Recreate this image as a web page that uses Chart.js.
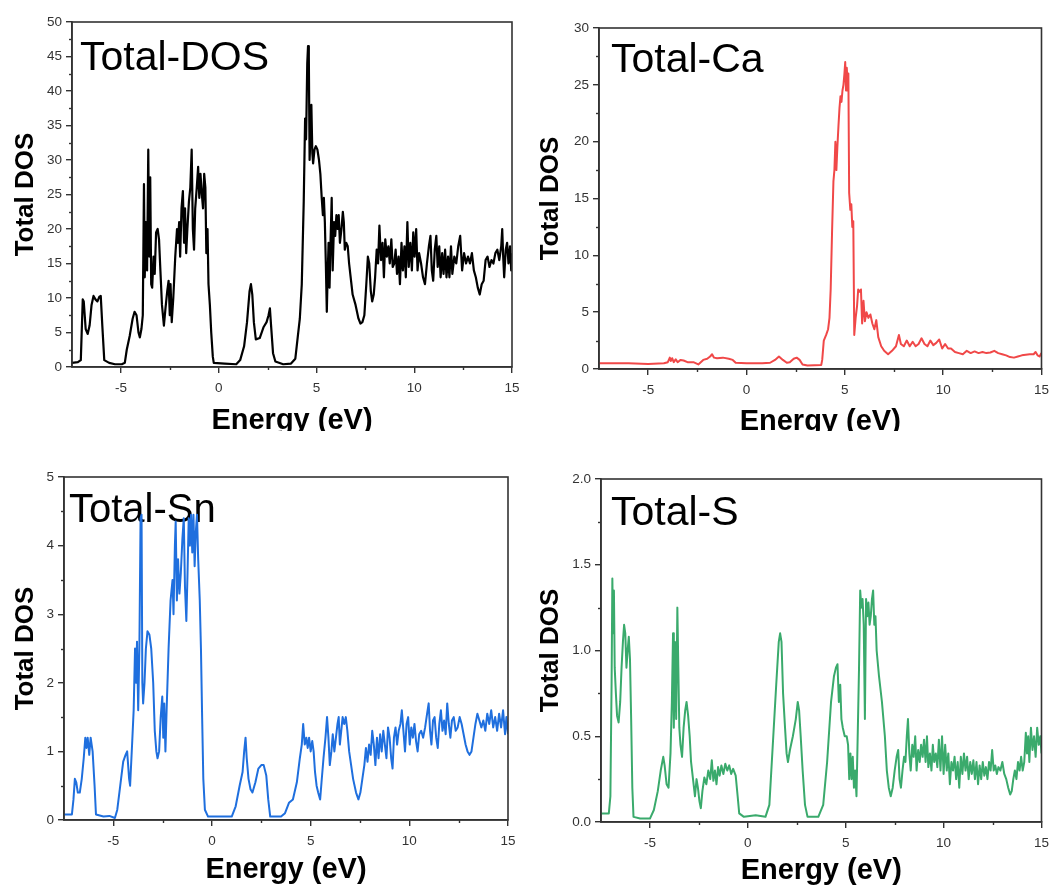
<!DOCTYPE html>
<html>
<head>
<meta charset="utf-8">
<title>Total DOS</title>
<script src="https://cdn.jsdelivr.net/npm/chart.js@4.4.1/dist/chart.umd.min.js"></script>
<style>
    html, body {
        margin: 0;
        padding: 0;
        background: #ffffff;
    }

    #page {
        position: relative;
        width: 1056px;
        height: 888px;
        overflow: hidden;
    }

    .panel {
        position: absolute;
        overflow: hidden;
    }

    .panel canvas {
        display: block;
    }
</style>
</head>
<body>
<div id="page"></div>

<script>
"use strict";

// energy axis shared by all four plots
const energyTicks = [-5, 0, 5, 10, 15];
const energyTickLabels = ["-5", "0", "5", "10", "15"];

const totalDosTicks = [0, 5, 10, 15, 20, 25, 30, 35, 40, 45, 50];
const totalDosTickLabels = ["0", "5", "10", "15", "20", "25", "30", "35", "40", "45", "50"];

const caTicks = [0, 5, 10, 15, 20, 25, 30];
const caTickLabels = ["0", "5", "10", "15", "20", "25", "30"];

const snTicks = [0, 1, 2, 3, 4, 5];
const snTickLabels = ["0", "1", "2", "3", "4", "5"];

const sTicks = [0, 0.5, 1.0, 1.5, 2.0];
const sTickLabels = ["0.0", "0.5", "1.0", "1.5", "2.0"];

// [energy (eV), DOS]
const totalDosData = [
    [-7.5,0.6],[-7.2,0.7],[-7.05,1.0],[-6.95,9.8],[-6.9,9.5],[-6.8,5.5],[-6.7,4.8],[-6.6,6.0],[-6.5,9.0],[-6.4,10.3],
    [-6.3,9.8],[-6.2,9.5],[-6.1,10.2],[-6.03,10.3],[-5.95,6.0],[-5.85,1.0],[-5.6,0.6],[-5.3,0.4],[-4.95,0.4],[-4.8,0.6],
    [-4.7,2.5],[-4.55,4.5],[-4.4,7.0],[-4.3,8.0],[-4.2,7.5],[-4.1,5.0],[-4.03,4.3],[-3.95,5.5],[-3.88,7.5],[-3.82,26.5],
    [-3.78,13.0],[-3.72,21.0],[-3.66,14.0],[-3.6,31.5],[-3.55,16.0],[-3.5,27.5],[-3.45,12.0],[-3.4,11.5],[-3.33,16.0],[-3.27,13.5],
    [-3.2,19.5],[-3.12,20.0],[-3.05,18.5],[-2.98,14.0],[-2.9,9.0],[-2.8,6.0],[-2.72,8.5],[-2.63,11.0],[-2.56,12.5],[-2.5,7.5],
    [-2.46,12.0],[-2.4,6.5],[-2.32,10.0],[-2.22,16.0],[-2.13,20.0],[-2.08,18.0],[-2.02,21.0],[-1.97,16.0],[-1.9,23.0],[-1.83,25.5],
    [-1.77,18.0],[-1.72,23.0],[-1.66,16.5],[-1.6,20.0],[-1.52,24.0],[-1.45,26.0],[-1.38,31.5],[-1.32,20.0],[-1.26,17.0],[-1.2,23.0],
    [-1.12,26.0],[-1.05,29.0],[-0.99,24.5],[-0.93,28.0],[-0.86,25.0],[-0.8,23.0],[-0.74,28.0],[-0.68,26.0],[-0.63,16.5],[-0.57,20.0],
    [-0.52,12.0],[-0.45,9.0],[-0.38,5.0],[-0.3,1.5],[-0.25,0.6],[0.3,0.5],[0.9,0.4],[1.1,1.0],[1.3,3.0],[1.45,6.5],
    [1.58,11.0],[1.65,12.0],[1.72,10.5],[1.8,6.5],[1.9,4.0],[2.1,4.2],[2.3,5.8],[2.45,6.5],[2.55,7.5],[2.62,8.5],
    [2.68,6.0],[2.78,2.0],[2.9,0.8],[3.3,0.4],[3.7,0.5],[3.92,1.2],[4.05,4.5],[4.15,7.0],[4.25,12.0],[4.35,24.0],
    [4.42,36.0],[4.47,33.0],[4.53,44.0],[4.57,46.5],[4.61,45.0],[4.65,30.0],[4.7,34.0],[4.74,38.0],[4.79,31.0],[4.83,29.5],
    [4.9,31.5],[4.97,32.0],[5.05,31.5],[5.13,30.0],[5.2,28.0],[5.27,24.5],[5.33,22.0],[5.38,24.5],[5.43,21.0],[5.48,15.0],
    [5.53,8.0],[5.57,13.0],[5.62,18.0],[5.67,11.5],[5.72,18.0],[5.78,24.5],[5.83,14.0],[5.9,21.0],[5.96,19.0],[6.02,22.0],
    [6.08,20.0],[6.14,22.0],[6.2,18.0],[6.28,20.0],[6.35,22.5],[6.4,21.0],[6.45,17.0],[6.52,18.0],[6.6,17.5],[6.67,15.0],
    [6.75,13.0],[6.85,10.5],[7.0,9.0],[7.15,7.0],[7.25,6.3],[7.35,6.5],[7.45,7.5],[7.55,12.0],[7.63,16.0],[7.7,15.0],
    [7.78,11.0],[7.85,9.5],[7.93,10.5],[8.0,13.0],[8.08,17.0],[8.15,15.0],[8.22,20.5],[8.3,15.5],[8.38,18.0],[8.45,13.0],
    [8.52,18.5],[8.6,16.0],[8.68,17.5],[8.75,15.0],[8.83,18.5],[8.9,14.5],[8.98,15.0],[9.05,17.0],[9.12,13.5],[9.2,16.0],
    [9.27,12.0],[9.35,18.0],[9.42,14.0],[9.5,17.5],[9.57,13.0],[9.65,21.0],[9.72,14.5],[9.8,18.0],[9.88,14.0],[9.95,19.5],
    [10.02,16.0],[10.1,20.0],[10.17,14.0],[10.25,16.5],[10.35,15.0],[10.45,13.0],[10.55,12.0],[10.65,15.0],[10.75,17.5],[10.83,19.0],
    [10.9,14.0],[10.97,12.5],[11.05,17.0],[11.13,19.0],[11.2,14.5],[11.28,17.5],[11.35,13.0],[11.43,16.5],[11.5,13.5],[11.58,17.0],
    [11.65,13.0],[11.73,16.0],[11.8,13.0],[11.88,17.5],[11.95,13.5],[12.05,16.0],[12.15,15.0],[12.25,17.5],[12.35,19.0],[12.45,14.0],
    [12.55,16.5],[12.65,15.0],[12.75,16.0],[12.85,15.0],[12.95,16.5],[13.05,14.0],[13.15,13.0],[13.25,11.5],[13.35,10.5],[13.45,12.0],
    [13.55,12.5],[13.65,15.5],[13.75,16.0],[13.85,14.5],[13.95,15.5],[14.05,15.0],[14.15,16.5],[14.25,17.0],[14.35,15.5],[14.45,17.5],
    [14.5,20.0],[14.55,16.0],[14.6,13.0],[14.68,17.0],[14.75,18.0],[14.82,15.0],[14.9,17.5],[14.96,14.0],[15.0,16.5]
];

const caData = [
    [-7.5,0.5],[-6.0,0.5],[-5.0,0.45],[-4.2,0.5],[-4.0,0.6],[-3.9,1.0],[-3.85,0.7],[-3.78,0.95],[-3.7,0.6],[-3.6,0.85],
    [-3.5,0.6],[-3.35,0.8],[-3.2,0.75],[-3.0,0.6],[-2.7,0.6],[-2.45,0.4],[-2.2,0.8],[-2.0,0.9],[-1.85,1.1],[-1.75,1.3],
    [-1.65,1.0],[-1.5,0.95],[-1.2,1.0],[-0.9,0.9],[-0.7,0.8],[-0.55,0.55],[0.0,0.5],[0.8,0.5],[1.2,0.55],[1.45,0.8],
    [1.65,1.1],[1.85,0.8],[2.05,0.55],[2.2,0.6],[2.4,0.9],[2.55,1.0],[2.7,0.8],[2.85,0.4],[3.1,0.3],[3.8,0.35],
    [3.85,0.8],[3.93,2.5],[4.05,3.0],[4.15,3.5],[4.22,4.5],[4.28,7.0],[4.35,12.0],[4.42,16.5],[4.47,17.5],[4.52,20.0],
    [4.57,17.5],[4.62,19.5],[4.68,21.5],[4.73,23.0],[4.78,24.0],[4.83,23.5],[4.88,24.5],[4.93,25.0],[4.98,26.0],[5.02,27.0],
    [5.06,24.5],[5.1,26.5],[5.14,25.0],[5.18,26.0],[5.22,15.5],[5.28,14.0],[5.33,14.5],[5.38,12.5],[5.43,13.0],[5.48,3.0],
    [5.55,4.5],[5.62,5.5],[5.68,7.0],[5.75,6.8],[5.82,7.0],[5.88,4.0],[5.95,6.0],[6.02,4.2],[6.1,5.0],[6.2,4.5],
    [6.3,4.8],[6.4,4.0],[6.5,3.5],[6.6,4.3],[6.7,2.8],[6.85,2.0],[7.0,1.6],[7.2,1.3],[7.4,1.6],[7.6,2.0],
    [7.75,3.0],[7.85,2.2],[8.0,2.0],[8.15,2.5],[8.3,2.0],[8.45,2.4],[8.6,2.0],[8.75,2.2],[8.9,2.7],[9.05,2.2],
    [9.2,2.0],[9.35,2.5],[9.5,2.1],[9.65,2.3],[9.8,2.6],[9.95,1.8],[10.1,2.2],[10.25,1.8],[10.4,1.8],[10.6,1.5],
    [10.8,1.4],[11.0,1.3],[11.2,1.6],[11.4,1.4],[11.6,1.55],[11.8,1.4],[12.0,1.5],[12.2,1.4],[12.4,1.45],[12.6,1.6],
    [12.8,1.4],[13.0,1.3],[13.2,1.2],[13.4,1.05],[13.6,1.0],[13.8,1.1],[14.0,1.2],[14.2,1.25],[14.4,1.3],[14.6,1.3],
    [14.7,1.5],[14.8,1.2],[14.9,1.1],[15.0,1.4]
];

const snData = [
    [-7.5,0.08],[-7.1,0.08],[-7.02,0.3],[-6.95,0.6],[-6.88,0.55],[-6.8,0.4],[-6.7,0.4],[-6.6,0.6],[-6.5,0.9],[-6.42,1.2],
    [-6.36,1.05],[-6.3,1.2],[-6.22,0.95],[-6.15,1.2],[-6.05,1.0],[-5.95,0.5],[-5.88,0.08],[-5.5,0.05],[-5.2,0.06],[-4.92,0.03],
    [-4.8,0.15],[-4.65,0.5],[-4.5,0.85],[-4.38,0.95],[-4.3,1.0],[-4.2,0.6],[-4.15,0.5],[-4.05,1.1],[-3.97,1.6],[-3.9,2.5],
    [-3.85,2.0],[-3.8,2.6],[-3.74,1.6],[-3.68,2.5],[-3.62,4.4],[-3.57,4.45],[-3.53,2.0],[-3.49,1.7],[-3.42,2.0],[-3.35,2.5],
    [-3.27,2.75],[-3.17,2.7],[-3.08,2.5],[-2.98,2.0],[-2.9,1.3],[-2.82,1.0],[-2.76,0.9],[-2.68,1.0],[-2.6,1.5],[-2.52,1.8],
    [-2.47,1.2],[-2.42,1.7],[-2.36,1.0],[-2.3,1.6],[-2.2,2.5],[-2.1,3.2],[-2.0,3.5],[-1.95,3.0],[-1.88,4.0],[-1.84,4.35],
    [-1.78,3.2],[-1.72,3.8],[-1.65,3.3],[-1.58,3.6],[-1.5,4.1],[-1.43,4.4],[-1.37,3.4],[-1.3,2.9],[-1.24,3.6],[-1.18,4.4],
    [-1.12,4.0],[-1.06,4.45],[-1.0,3.9],[-0.94,4.45],[-0.88,3.7],[-0.82,4.2],[-0.76,4.45],[-0.7,3.8],[-0.62,3.2],[-0.56,2.5],
    [-0.5,1.5],[-0.44,0.6],[-0.36,0.15],[-0.2,0.05],[0.4,0.05],[1.0,0.05],[1.2,0.2],[1.4,0.5],[1.55,0.7],[1.63,1.0],
    [1.7,1.2],[1.76,0.9],[1.85,0.6],[1.95,0.45],[2.05,0.4],[2.2,0.55],[2.35,0.75],[2.5,0.8],[2.62,0.8],[2.75,0.65],
    [2.85,0.3],[2.95,0.05],[3.5,0.05],[3.7,0.1],[3.9,0.25],[4.1,0.3],[4.3,0.55],[4.45,0.9],[4.55,1.1],[4.62,1.4],
    [4.7,1.1],[4.78,1.2],[4.85,1.05],[4.92,1.2],[5.0,1.0],[5.08,1.15],[5.15,1.0],[5.22,0.7],[5.3,0.5],[5.38,0.4],
    [5.48,0.3],[5.55,0.55],[5.65,0.9],[5.75,1.2],[5.83,1.5],[5.9,1.2],[5.97,0.8],[6.05,1.0],[6.12,1.25],[6.2,1.0],
    [6.28,1.2],[6.36,1.4],[6.42,1.5],[6.48,1.1],[6.55,1.3],[6.62,1.5],[6.7,1.4],[6.78,1.5],[6.86,1.3],[6.95,1.0],
    [7.05,0.8],[7.15,0.6],[7.3,0.4],[7.42,0.3],[7.52,0.4],[7.62,0.6],[7.72,0.8],[7.8,1.05],[7.88,0.85],[7.96,1.1],
    [8.04,0.95],[8.12,1.3],[8.2,1.1],[8.28,0.8],[8.36,1.2],[8.44,0.9],[8.52,1.25],[8.6,1.0],[8.68,1.3],[8.76,1.1],
    [8.84,0.9],[8.92,1.35],[9.0,1.2],[9.08,0.9],[9.15,0.75],[9.22,1.2],[9.3,1.35],[9.38,1.1],[9.46,1.3],[9.55,1.4],
    [9.62,1.6],[9.7,1.3],[9.78,1.0],[9.86,1.4],[9.94,1.5],[10.02,1.1],[10.1,1.35],[10.18,1.2],[10.26,1.4],[10.34,1.15],
    [10.42,1.0],[10.5,1.25],[10.6,1.3],[10.7,1.2],[10.8,1.35],[10.9,1.55],[10.98,1.7],[11.05,1.3],[11.12,1.1],[11.2,1.45],
    [11.28,1.5],[11.36,1.2],[11.44,1.05],[11.52,1.4],[11.6,1.6],[11.68,1.3],[11.76,1.45],[11.84,1.25],[11.92,1.7],[12.0,1.4],
    [12.08,1.2],[12.16,1.45],[12.25,1.5],[12.35,1.3],[12.45,1.35],[12.55,1.5],[12.65,1.4],[12.75,1.25],[12.85,1.1],[12.95,1.0],
    [13.05,0.95],[13.15,1.0],[13.25,1.2],[13.35,1.4],[13.45,1.55],[13.55,1.45],[13.65,1.35],[13.75,1.45],[13.85,1.3],[13.95,1.55],
    [14.05,1.4],[14.15,1.6],[14.25,1.35],[14.35,1.5],[14.45,1.3],[14.55,1.55],[14.65,1.35],[14.75,1.6],[14.85,1.25],[14.92,1.5],
    [15.0,1.25]
];

const sData = [
    [-7.5,0.05],[-7.1,0.05],[-7.02,0.15],[-6.96,0.8],[-6.92,1.42],[-6.88,1.1],[-6.84,1.35],[-6.8,0.9],[-6.74,0.75],[-6.68,0.62],
    [-6.6,0.58],[-6.52,0.7],[-6.45,0.9],[-6.38,1.05],[-6.32,1.15],[-6.26,1.1],[-6.2,0.9],[-6.14,1.0],[-6.08,1.08],[-6.02,0.95],
    [-5.96,0.6],[-5.9,0.2],[-5.84,0.03],[-5.5,0.02],[-5.0,0.02],[-4.8,0.07],[-4.6,0.18],[-4.45,0.3],[-4.32,0.38],[-4.25,0.33],
    [-4.15,0.22],[-4.05,0.2],[-3.95,0.4],[-3.88,0.7],[-3.82,1.1],[-3.78,0.55],[-3.72,1.05],[-3.66,0.6],[-3.6,1.25],[-3.55,0.9],
    [-3.5,0.55],[-3.44,0.45],[-3.36,0.38],[-3.28,0.55],[-3.2,0.65],[-3.13,0.7],[-3.05,0.62],[-2.97,0.5],[-2.9,0.35],[-2.8,0.25],
    [-2.7,0.15],[-2.62,0.25],[-2.55,0.2],[-2.47,0.12],[-2.4,0.08],[-2.32,0.18],[-2.22,0.26],[-2.12,0.22],[-2.02,0.3],[-1.92,0.25],
    [-1.84,0.36],[-1.76,0.24],[-1.68,0.3],[-1.6,0.22],[-1.52,0.32],[-1.44,0.27],[-1.35,0.33],[-1.25,0.28],[-1.15,0.34],[-1.05,0.3],
    [-0.95,0.33],[-0.85,0.28],[-0.75,0.31],[-0.62,0.27],[-0.52,0.15],[-0.44,0.05],[-0.2,0.03],[0.4,0.04],[0.9,0.03],[1.1,0.1],
    [1.3,0.5],[1.45,0.8],[1.58,1.05],[1.65,1.1],[1.72,1.05],[1.8,0.75],[1.9,0.55],[1.98,0.4],[2.05,0.35],[2.15,0.42],
    [2.3,0.5],[2.45,0.6],[2.55,0.7],[2.62,0.65],[2.7,0.5],[2.8,0.3],[2.92,0.1],[3.05,0.03],[3.6,0.03],[3.85,0.1],
    [4.05,0.35],[4.25,0.7],[4.4,0.85],[4.5,0.9],[4.58,0.92],[4.65,0.7],[4.72,0.8],[4.78,0.6],[4.85,0.55],[4.95,0.5],
    [5.05,0.5],[5.12,0.45],[5.18,0.25],[5.24,0.4],[5.3,0.25],[5.36,0.38],[5.42,0.2],[5.48,0.3],[5.55,0.15],[5.62,0.55],
    [5.68,0.9],[5.74,1.35],[5.8,1.25],[5.86,1.3],[5.92,1.15],[5.98,0.6],[6.04,1.3],[6.1,1.2],[6.16,1.28],[6.22,1.15],
    [6.28,1.2],[6.34,1.3],[6.4,1.35],[6.46,1.15],[6.52,1.2],[6.58,1.0],[6.7,0.85],[6.85,0.7],[7.0,0.5],[7.1,0.3],
    [7.2,0.2],[7.3,0.15],[7.4,0.2],[7.5,0.3],[7.6,0.38],[7.68,0.42],[7.75,0.25],[7.82,0.2],[7.9,0.3],[7.98,0.38],
    [8.05,0.35],[8.12,0.5],[8.18,0.6],[8.25,0.4],[8.32,0.3],[8.4,0.45],[8.47,0.38],[8.55,0.5],[8.62,0.3],[8.7,0.42],
    [8.78,0.35],[8.85,0.45],[8.93,0.38],[9.0,0.48],[9.08,0.35],[9.15,0.5],[9.22,0.32],[9.3,0.4],[9.38,0.3],[9.45,0.45],
    [9.52,0.35],[9.6,0.4],[9.68,0.32],[9.76,0.48],[9.84,0.3],[9.92,0.5],[10.0,0.28],[10.08,0.45],[10.16,0.3],[10.24,0.4],
    [10.32,0.22],[10.4,0.35],[10.48,0.3],[10.56,0.38],[10.64,0.25],[10.72,0.35],[10.8,0.2],[10.88,0.38],[10.96,0.28],[11.04,0.4],
    [11.12,0.3],[11.2,0.38],[11.28,0.25],[11.36,0.35],[11.44,0.28],[11.52,0.36],[11.6,0.25],[11.68,0.35],[11.76,0.22],[11.84,0.33],
    [11.92,0.25],[12.0,0.35],[12.08,0.27],[12.16,0.32],[12.24,0.25],[12.32,0.35],[12.4,0.3],[12.48,0.42],[12.56,0.3],[12.64,0.33],
    [12.72,0.28],[12.8,0.32],[12.9,0.3],[13.0,0.35],[13.1,0.28],[13.2,0.25],[13.3,0.2],[13.4,0.16],[13.48,0.18],[13.56,0.25],
    [13.64,0.3],[13.72,0.25],[13.8,0.35],[13.88,0.3],[13.96,0.38],[14.04,0.3],[14.12,0.35],[14.2,0.52],[14.26,0.4],[14.32,0.5],
    [14.38,0.35],[14.46,0.55],[14.54,0.42],[14.62,0.5],[14.7,0.38],[14.78,0.55],[14.86,0.45],[14.94,0.5],[15.0,0.4]
];

const FONT_FAMILY = "'Liberation Sans', Arial, Helvetica, sans-serif";
const AXIS_COLOR = "#333333";

// frame, minor ticks and the label written inside each plot
const panelDecorPlugin = {

    id: "panelDecor",

    beforeDatasetsDraw(chart, args, opts) {

        const { ctx, chartArea } = chart;

        ctx.save();
        ctx.fillStyle = "#000000";
        ctx.font = `${opts.fontSize}px ${FONT_FAMILY}`;
        ctx.textBaseline = "alphabetic";
        ctx.textAlign = "left";
        ctx.fillText(
            opts.text,
            chartArea.left + opts.dx,
            chartArea.top + opts.dy
        );
        ctx.restore();
    },

    afterDraw(chart, args, opts) {

        const { ctx, chartArea, scales } = chart;
        const area = chartArea;

        ctx.save();
        ctx.strokeStyle = AXIS_COLOR;
        ctx.lineWidth = 1.6;
        ctx.strokeRect(
            area.left,
            area.top,
            area.right - area.left,
            area.bottom - area.top
        );

        const minorLength = 3;
        ctx.lineWidth = 1.4;

        const xs = opts.xMajor;
        for (let i = 0; i < xs.length - 1; i++) {
            const px = Math.round(scales.x.getPixelForValue((xs[i] + xs[i + 1]) / 2)) + 0.5;
            ctx.beginPath();
            ctx.moveTo(px, area.bottom);
            ctx.lineTo(px, area.bottom + minorLength);
            ctx.stroke();
        }

        const ys = opts.yMajor;
        for (let i = 0; i < ys.length - 1; i++) {
            const py = Math.round(scales.y.getPixelForValue((ys[i] + ys[i + 1]) / 2)) + 0.5;
            ctx.beginPath();
            ctx.moveTo(area.left, py);
            ctx.lineTo(area.left - minorLength, py);
            ctx.stroke();
        }

        ctx.restore();
    }
};

const DosPanels = {

    panels: [
        {
            name: "Total-DOS",
            data: totalDosData,
            yTicks: totalDosTicks,
            yTickLabels: totalDosTickLabels,
            color: "#000000",
            lineWidth: 2.2,
            box: { left: 0, top: 0, width: 530, height: 431 },
            canvasHeight: 460,
            area: { left: 72, top: 22, right: 512, bottom: 367 },
            yTitlePad: 10,
            xTitlePad: 22,
            titleFont: 41,
            titleOffset: { dx: 8, dy: 48 }
        },
        {
            name: "Total-Ca",
            data: caData,
            yTicks: caTicks,
            yTickLabels: caTickLabels,
            color: "#f04848",
            lineWidth: 2,
            box: { left: 530, top: 0, width: 526, height: 431 },
            canvasHeight: 460,
            area: { left: 69, top: 28, right: 513, bottom: 369 },
            yTitlePad: 5,
            xTitlePad: 21,
            titleFont: 41,
            titleOffset: { dx: 12, dy: 44 }
        },
        {
            name: "Total-Sn",
            data: snData,
            yTicks: snTicks,
            yTickLabels: snTickLabels,
            color: "#1f6fde",
            lineWidth: 2,
            box: { left: 0, top: 440, width: 530, height: 448 },
            canvasHeight: 448,
            area: { left: 64, top: 37, right: 508, bottom: 380 },
            yTitlePad: 10,
            xTitlePad: 1,
            titleFont: 40,
            titleOffset: { dx: 5, dy: 45 }
        },
        {
            name: "Total-S",
            data: sData,
            yTicks: sTicks,
            yTickLabels: sTickLabels,
            color: "#3aaa6c",
            lineWidth: 2,
            box: { left: 530, top: 440, width: 526, height: 448 },
            canvasHeight: 448,
            area: { left: 71, top: 39, right: 513, bottom: 382 },
            yTitlePad: 5,
            xTitlePad: 0,
            titleFont: 41,
            titleOffset: { dx: 10, dy: 46 }
        }
    ],

    initialize() {

        if (typeof Chart === "undefined") {
            console.error("Chart.js not loaded.");
            return;
        }

        const page = document.getElementById("page");

        this.panels.forEach(panel => this.createPanel(page, panel));
    },

    createPanel(page, panel) {

        const wrapper = document.createElement("div");
        wrapper.className = "panel";
        wrapper.style.left = panel.box.left + "px";
        wrapper.style.top = panel.box.top + "px";
        wrapper.style.width = panel.box.width + "px";
        wrapper.style.height = panel.box.height + "px";

        const canvas = document.createElement("canvas");
        canvas.width = panel.box.width;
        canvas.height = panel.canvasHeight;
        canvas.style.width = panel.box.width + "px";
        canvas.style.height = panel.canvasHeight + "px";

        wrapper.appendChild(canvas);
        page.appendChild(wrapper);

        const yAxisWidth = panel.area.left;
        const xAxisHeight = panel.canvasHeight - panel.area.bottom;

        const tickFont = {
            family: FONT_FAMILY,
            size: 13.5
        };

        new Chart(canvas, {

            type: "line",

            data: {
                datasets: [
                    {
                        label: panel.name,
                        data: panel.data.map(([x, y]) => ({ x, y })),
                        borderColor: panel.color,
                        borderWidth: panel.lineWidth,
                        borderJoinStyle: "round",
                        pointRadius: 0,
                        tension: 0,
                        fill: false
                    }
                ]
            },

            options: {

                responsive: false,
                animation: false,
                devicePixelRatio: 1,

                layout: {
                    padding: {
                        left: 0,
                        top: panel.area.top,
                        right: panel.box.width - panel.area.right,
                        bottom: 0
                    }
                },

                plugins: {
                    legend: { display: false },
                    tooltip: { enabled: false },
                    panelDecor: {
                        text: panel.name,
                        fontSize: panel.titleFont,
                        dx: panel.titleOffset.dx,
                        dy: panel.titleOffset.dy,
                        xMajor: energyTicks,
                        yMajor: panel.yTicks
                    }
                },

                scales: {

                    x: {
                        type: "linear",
                        min: -7.5,
                        max: 15,
                        afterBuildTicks(scale) {
                            scale.ticks = energyTicks.map(v => ({ value: v }));
                        },
                        afterFit(scale) {
                            scale.height = xAxisHeight;
                        },
                        ticks: {
                            color: AXIS_COLOR,
                            font: tickFont,
                            padding: 7,
                            maxRotation: 0,
                            autoSkip: false,
                            callback: (value, index) => energyTickLabels[index]
                        },
                        grid: {
                            drawOnChartArea: false,
                            drawTicks: true,
                            tickLength: 6,
                            color: AXIS_COLOR,
                            lineWidth: 1.4
                        },
                        border: {
                            display: true,
                            color: AXIS_COLOR,
                            width: 1.6
                        },
                        title: {
                            display: true,
                            text: "Energy (eV)",
                            color: "#000000",
                            font: {
                                family: FONT_FAMILY,
                                size: 29,
                                weight: "bold"
                            },
                            padding: { top: 0, bottom: panel.xTitlePad }
                        }
                    },

                    y: {
                        type: "linear",
                        min: panel.yTicks[0],
                        max: panel.yTicks[panel.yTicks.length - 1],
                        afterBuildTicks(scale) {
                            scale.ticks = panel.yTicks.map(v => ({ value: v }));
                        },
                        afterFit(scale) {
                            scale.width = yAxisWidth;
                        },
                        ticks: {
                            color: AXIS_COLOR,
                            font: tickFont,
                            padding: 4,
                            autoSkip: false,
                            callback: (value, index) => panel.yTickLabels[index]
                        },
                        grid: {
                            drawOnChartArea: false,
                            drawTicks: true,
                            tickLength: 6,
                            color: AXIS_COLOR,
                            lineWidth: 1.4
                        },
                        border: {
                            display: true,
                            color: AXIS_COLOR,
                            width: 1.6
                        },
                        title: {
                            display: true,
                            text: "Total DOS",
                            color: "#000000",
                            font: {
                                family: FONT_FAMILY,
                                size: 26,
                                weight: "bold"
                            },
                            padding: { top: panel.yTitlePad, bottom: 0 }
                        }
                    }
                }
            },

            plugins: [panelDecorPlugin]
        });
    }
};

document.addEventListener("DOMContentLoaded", () => {

    try {
        DosPanels.initialize();
    } catch (error) {
        console.error("DOS chart initialization failed", error);
    }
});
</script>
</body>
</html>
